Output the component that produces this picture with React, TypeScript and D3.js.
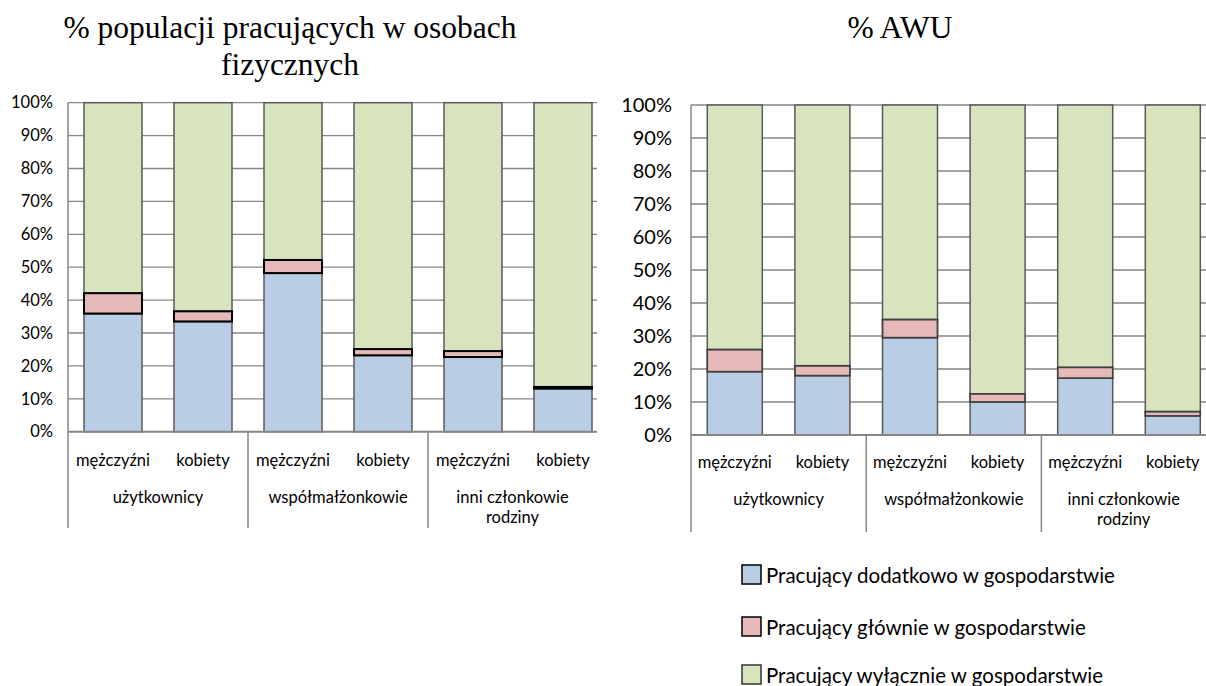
import React from "react";
import * as d3 from "d3";

const categories = ["mężczyźni", "kobiety", "mężczyźni", "kobiety", "mężczyźni", "kobiety"];
const groups = [["użytkownicy"], ["współmałżonkowie"], ["inni członkowie", "rodziny"]];
const seriesNames = [
  "Pracujący dodatkowo w gospodarstwie",
  "Pracujący głównie w gospodarstwie",
  "Pracujący wyłącznie w gospodarstwie",
];
const seriesColors = ["#B9CDE5", "#E6B9B8", "#D7E4BD"];
const yTicks = [0, 10, 20, 30, 40, 50, 60, 70, 80, 90, 100];

// % populacji pracujących w osobach fizycznych
const popDodatkowo = [35.9, 33.5, 48.2, 23.2, 22.7, 13.1];
const popGlownie = [6.2, 3.1, 4.0, 1.9, 1.8, 0.5];
const popWylacznie = [57.9, 63.4, 47.8, 74.9, 75.5, 86.4];

// % AWU
const awuDodatkowo = [19.2, 18.0, 29.5, 10.0, 17.2, 5.8];
const awuGlownie = [6.7, 3.0, 5.5, 2.5, 3.3, 1.3];
const awuWylacznie = [74.1, 79.0, 65.0, 87.5, 79.5, 92.9];

const LABEL_FONT = "Lato, 'Open Sans', sans-serif";
const TITLE_FONT = "'Liberation Serif', 'Times New Roman', serif";

type PanelProps = {
  id: string;
  title: string[];
  titleX: number;
  titleY: number;
  a: number[];
  b: number[];
  c: number[];
  plotLeft: number;
  band: number;
  barW: number;
  yTop: number;
  yBottom: number;
  clipRight: number;
  tickFont: number;
  tickRight: number;
  catY: number;
  groupY: number;
  divBottom: number;
  pinkStroke: string;
  pinkStrokeW: number;
};

function Panel(p: PanelProps) {
  const idx = categories.map((_, i) => i);
  const x = d3
    .scaleBand<number>()
    .domain(idx)
    .range([p.plotLeft, p.plotLeft + p.band * categories.length])
    .paddingInner(1 - p.barW / p.band)
    .paddingOuter((1 - p.barW / p.band) / 2);
  const y = d3.scaleLinear().domain([0, 100]).range([p.yBottom, p.yTop]);
  const rows = idx.map((i) => ({ i, a: p.a[i], b: p.b[i], c: p.c[i] }));
  const stack = d3.stack<any>().keys(["a", "b", "c"]);
  const series = stack(rows);
  const plotRight = p.plotLeft + p.band * categories.length;
  const gridRight = Math.min(plotRight, p.clipRight);
  const groupBounds = groups.map((_, g) => {
    const s = p.plotLeft + p.band * 2 * g;
    const e = Math.min(p.plotLeft + p.band * 2 * (g + 1), p.clipRight);
    return [s, e];
  });
  return (
    <g>
      <defs>
        <clipPath id={p.id}>
          <rect x={0} y={0} width={p.clipRight} height={686} />
        </clipPath>
      </defs>
      {p.title.map((t, k) => (
        <text
          key={k}
          x={p.titleX}
          y={p.titleY + k * 37}
          textAnchor="middle"
          fontFamily={TITLE_FONT}
          fontSize={31.5}
          fill="#000"
        >
          {t}
        </text>
      ))}
      <g clipPath={`url(#${p.id})`}>
        {yTicks.slice(1).map((t) => (
          <line
            key={t}
            x1={p.plotLeft}
            x2={gridRight}
            y1={y(t)}
            y2={y(t)}
            stroke="#868686"
            strokeWidth={1.3}
          />
        ))}
        {series.map((s, si) =>
          s.map((d, i) => (
            <rect
              key={`${si}-${i}`}
              x={x(i)}
              y={y(d[1])}
              width={x.bandwidth()}
              height={Math.max(0, y(d[0]) - y(d[1]))}
              fill={seriesColors[si]}
              stroke="#595959"
              strokeWidth={1.5}
            />
          ))
        )}
        {series[1].map((d, i) => (
          <rect
            key={`pk-${i}`}
            x={x(i)}
            y={y(d[1])}
            width={x.bandwidth()}
            height={Math.max(0, y(d[0]) - y(d[1]))}
            fill="none"
            stroke={p.pinkStroke}
            strokeWidth={p.pinkStrokeW}
          />
        ))}
        <line x1={p.plotLeft} x2={p.plotLeft} y1={p.yTop} y2={p.divBottom} stroke="#868686" strokeWidth={1.5} />
        <line x1={p.plotLeft} x2={gridRight} y1={p.yBottom} y2={p.yBottom} stroke="#868686" strokeWidth={2} />
        {groups.map((_, g) => (
          <line
            key={g}
            x1={p.plotLeft + p.band * 2 * (g + 1)}
            x2={p.plotLeft + p.band * 2 * (g + 1)}
            y1={p.yBottom}
            y2={p.divBottom}
            stroke="#868686"
            strokeWidth={1.5}
          />
        ))}
      </g>
      {yTicks.map((t) => (
        <text
          key={t}
          x={p.tickRight}
          y={y(t)}
          dy="0.35em"
          textAnchor="end"
          fontFamily={LABEL_FONT}
          fontSize={p.tickFont}
          fill="#000"
        >
          {t}%
        </text>
      ))}
      {categories.map((c, i) => (
        <text
          key={i}
          x={(x(i) as number) + x.bandwidth() / 2}
          y={p.catY}
          dy="0.35em"
          textAnchor="middle"
          fontFamily={LABEL_FONT}
          fontSize={16.5}
          fill="#000"
        >
          {c}
        </text>
      ))}
      {groups.map((lines, g) =>
        lines.map((l, k) => (
          <text
            key={`${g}-${k}`}
            x={(groupBounds[g][0] + groupBounds[g][1]) / 2}
            y={p.groupY + k * 20}
            dy="0.35em"
            textAnchor="middle"
            fontFamily={LABEL_FONT}
            fontSize={16.5}
            fill="#000"
          >
            {l}
          </text>
        ))
      )}
    </g>
  );
}

export default function App() {
  const legendY = [565, 617, 665];
  const legendStroke = ["#000", "#000", "#333"];
  return (
    <svg
      width={1206}
      height={686}
      style={{ position: "absolute", left: 0, top: 0, background: "#fff" }}
    >
      <rect x={0} y={0} width={1206} height={686} fill="#fff" />
      <Panel
        id="clipL"
        title={["% populacji pracujących w osobach", "fizycznych"]}
        titleX={290}
        titleY={38}
        a={popDodatkowo}
        b={popGlownie}
        c={popWylacznie}
        plotLeft={68}
        band={90}
        barW={58}
        yTop={102.7}
        yBottom={431.7}
        clipRight={597}
        tickFont={16.5}
        tickRight={53}
        catY={460}
        groupY={497}
        divBottom={528}
        pinkStroke="#000"
        pinkStrokeW={2}
      />
      <Panel
        id="clipR"
        title={["% AWU"]}
        titleX={900}
        titleY={38}
        a={awuDodatkowo}
        b={awuGlownie}
        c={awuWylacznie}
        plotLeft={691}
        band={87.6}
        barW={55}
        yTop={105}
        yBottom={435}
        clipRight={1206}
        tickFont={20}
        tickRight={672}
        catY={462}
        groupY={499}
        divBottom={532}
        pinkStroke="#404040"
        pinkStrokeW={1.5}
      />
      {seriesNames.map((n, i) => (
        <g key={n}>
          <rect
            x={742}
            y={legendY[i]}
            width={19}
            height={19}
            fill={seriesColors[i]}
            stroke={legendStroke[i]}
            strokeWidth={1.5}
          />
          <text
            x={766}
            y={legendY[i] + 11}
            dy="0.35em"
            fontFamily={LABEL_FONT}
            fontSize={20.5}
            fill="#000"
          >
            {n}
          </text>
        </g>
      ))}
    </svg>
  );
}
